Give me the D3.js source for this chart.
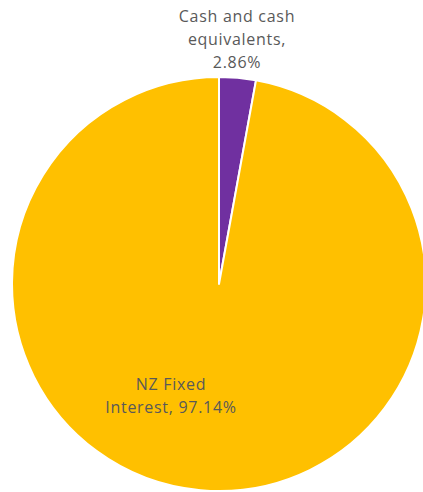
<!DOCTYPE html>
<html>
<head>
<meta charset="utf-8">
<script src="https://cdn.jsdelivr.net/npm/d3@7"></script>
<style>
  body { margin: 0; background: #fff; }
  svg { display: block; }
</style>
</head>
<body>
<div id="pie"></div>
<script>
// Chart data
const categories = ["Cash and cash equivalents", "NZ Fixed Interest"];
const values = [2.86, 97.14];
const colors = ["#7030A0", "#FFC000"];
const labelLines = [
  ["Cash and cash", "equivalents,", "2.86%"],
  ["NZ Fixed", "Interest, 97.14%"]
];

const width = 423, height = 492;
const cx = 219, cy = 284, radius = 207;

// where the label blocks sit (x centre, baseline of first line), relative to pie centre
const labelAnchors = [[18, -262], [-48, 106]];
const lineH = 23;

const svg = d3.select("#pie")
  .append("svg")
    .attr("width", width)
    .attr("height", height);

const g = svg.append("g")
    .attr("transform", `translate(${cx},${cy})`);

const data = categories.map((c, i) => ({name: c, value: values[i], lines: labelLines[i]}));

const pie = d3.pie()
  .sort(null)
  .value(d => d.value);

const arc = d3.arc()
  .innerRadius(0)
  .outerRadius(radius);

const color = d3.scaleOrdinal()
  .domain(categories)
  .range(colors);

// Slices
g.selectAll("path")
  .data(pie(data))
  .join("path")
    .attr("d", arc)
    .attr("fill", d => color(d.data.name))
    .attr("stroke", "#fff")
    .attr("stroke-width", 2)
    .attr("stroke-linejoin", "round");

// Labels
g.selectAll("text.label")
  .data(pie(data))
  .join("text")
    .attr("class", "label")
    .attr("text-anchor", "middle")
    .attr("font-family", "'Open Sans', sans-serif")
    .attr("font-size", 16)
    .attr("letter-spacing", 0.7)
    .attr("fill", "#595959")
    .each(function(d, i) {
      const [x, y] = labelAnchors[i];
      d3.select(this).selectAll("tspan")
        .data(d.data.lines)
        .join("tspan")
          .attr("x", x)
          .attr("y", (t, j) => y + j * lineH)
          .text(t => t);
    });
</script>
</body>
</html>
